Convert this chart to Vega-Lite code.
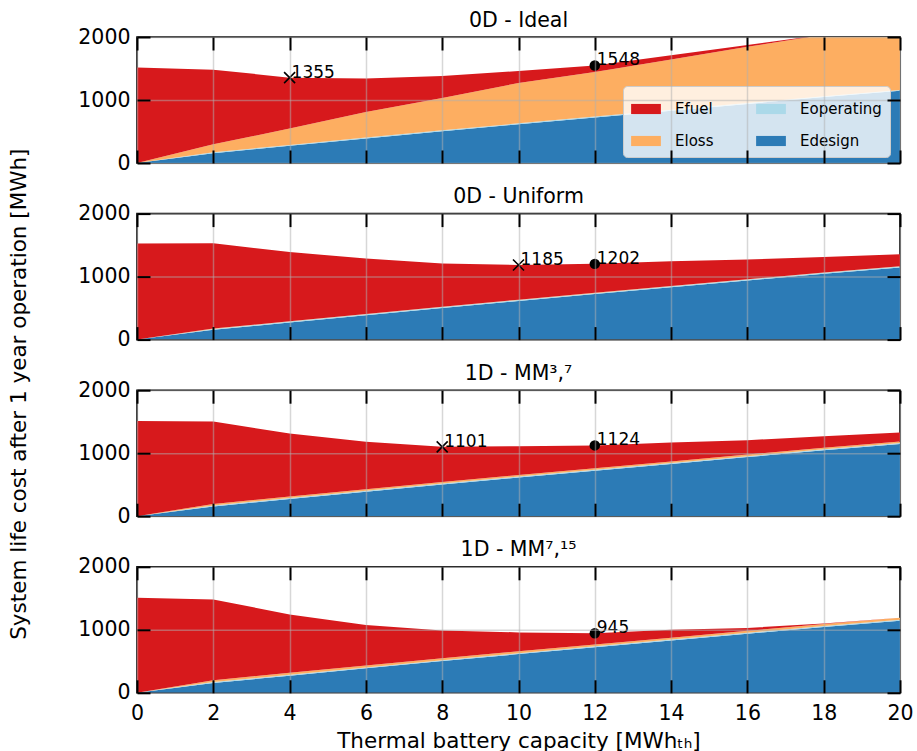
{
  "$schema": "https://vega.github.io/schema/vega-lite/v6.json",
  "padding": {"left": 8, "top": 9, "right": 0, "bottom": 3},
  "background": "white",
  "title": {"text": "System life cost after 1 year operation [MWh]", "orient": "left", "anchor": "middle", "frame": "bounds", "offset": 30, "dx": -13, "fontSize": 21.5, "baseline": "alphabetic", "fontWeight": "normal", "color": "black"},
  "datasets": {
    "areas": [
      {"p": "A", "x": 0, "design": 0, "operating": 0, "loss": 0, "fuel": 1514},
      {"p": "A", "x": 2, "design": 155, "operating": 15, "loss": 127, "fuel": 1185},
      {"p": "A", "x": 4, "design": 272, "operating": 15, "loss": 259, "fuel": 809},
      {"p": "A", "x": 6, "design": 388, "operating": 15, "loss": 407, "fuel": 530},
      {"p": "A", "x": 8, "design": 503, "operating": 15, "loss": 514, "fuel": 349},
      {"p": "A", "x": 10, "design": 614, "operating": 15, "loss": 641, "fuel": 190},
      {"p": "A", "x": 12, "design": 722, "operating": 15, "loss": 707, "fuel": 104},
      {"p": "A", "x": 14, "design": 830, "operating": 15, "loss": 799, "fuel": 65},
      {"p": "A", "x": 16, "design": 938, "operating": 15, "loss": 891, "fuel": 30},
      {"p": "A", "x": 18, "design": 1046, "operating": 15, "loss": 976, "fuel": 0},
      {"p": "A", "x": 20, "design": 1145, "operating": 15, "loss": 1040, "fuel": 0},
      {"p": "B", "x": 0, "design": 0, "operating": 0, "loss": 0, "fuel": 1524},
      {"p": "B", "x": 2, "design": 155, "operating": 15, "loss": 5, "fuel": 1355},
      {"p": "B", "x": 4, "design": 272, "operating": 15, "loss": 5, "fuel": 1098},
      {"p": "B", "x": 6, "design": 388, "operating": 15, "loss": 5, "fuel": 878},
      {"p": "B", "x": 8, "design": 503, "operating": 15, "loss": 5, "fuel": 683},
      {"p": "B", "x": 10, "design": 614, "operating": 15, "loss": 5, "fuel": 551},
      {"p": "B", "x": 12, "design": 722, "operating": 15, "loss": 5, "fuel": 460},
      {"p": "B", "x": 14, "design": 830, "operating": 15, "loss": 5, "fuel": 393},
      {"p": "B", "x": 16, "design": 938, "operating": 15, "loss": 5, "fuel": 312},
      {"p": "B", "x": 18, "design": 1046, "operating": 15, "loss": 5, "fuel": 245},
      {"p": "B", "x": 20, "design": 1145, "operating": 15, "loss": 5, "fuel": 189},
      {"p": "C", "x": 0, "design": 0, "operating": 0, "loss": 0, "fuel": 1513},
      {"p": "C", "x": 2, "design": 155, "operating": 15, "loss": 25, "fuel": 1308},
      {"p": "C", "x": 4, "design": 272, "operating": 15, "loss": 25, "fuel": 1001},
      {"p": "C", "x": 6, "design": 388, "operating": 15, "loss": 25, "fuel": 752},
      {"p": "C", "x": 8, "design": 503, "operating": 15, "loss": 25, "fuel": 558},
      {"p": "C", "x": 10, "design": 614, "operating": 15, "loss": 25, "fuel": 457},
      {"p": "C", "x": 12, "design": 722, "operating": 15, "loss": 25, "fuel": 362},
      {"p": "C", "x": 14, "design": 830, "operating": 15, "loss": 25, "fuel": 300},
      {"p": "C", "x": 16, "design": 938, "operating": 15, "loss": 25, "fuel": 228},
      {"p": "C", "x": 18, "design": 1046, "operating": 15, "loss": 25, "fuel": 184},
      {"p": "C", "x": 20, "design": 1145, "operating": 15, "loss": 25, "fuel": 143},
      {"p": "D", "x": 0, "design": 0, "operating": 0, "loss": 0, "fuel": 1508},
      {"p": "D", "x": 2, "design": 155, "operating": 15, "loss": 30, "fuel": 1282},
      {"p": "D", "x": 4, "design": 272, "operating": 15, "loss": 30, "fuel": 927},
      {"p": "D", "x": 6, "design": 388, "operating": 15, "loss": 30, "fuel": 642},
      {"p": "D", "x": 8, "design": 503, "operating": 15, "loss": 30, "fuel": 442},
      {"p": "D", "x": 10, "design": 614, "operating": 15, "loss": 30, "fuel": 300},
      {"p": "D", "x": 12, "design": 722, "operating": 15, "loss": 30, "fuel": 178},
      {"p": "D", "x": 14, "design": 830, "operating": 15, "loss": 30, "fuel": 125},
      {"p": "D", "x": 16, "design": 938, "operating": 15, "loss": 30, "fuel": 47},
      {"p": "D", "x": 18, "design": 1046, "operating": 15, "loss": 30, "fuel": 9},
      {"p": "D", "x": 20, "design": 1145, "operating": 15, "loss": 30, "fuel": 0}
    ],
    "pts": [
      {"p": "A", "x": 4, "y": 1355, "kind": "min", "label": "1355"},
      {"p": "A", "x": 12, "y": 1548, "kind": "sel", "label": "1548"},
      {"p": "B", "x": 10, "y": 1185, "kind": "min", "label": "1185"},
      {"p": "B", "x": 12, "y": 1202, "kind": "sel", "label": "1202"},
      {"p": "C", "x": 8, "y": 1101, "kind": "min", "label": "1101"},
      {"p": "C", "x": 12, "y": 1124, "kind": "sel", "label": "1124"},
      {"p": "D", "x": 12, "y": 945, "kind": "sel", "label": "945"}
    ],
    "ord": [
      {"comp": "design", "ord": 1},
      {"comp": "operating", "ord": 2},
      {"comp": "loss", "ord": 3},
      {"comp": "fuel", "ord": 4}
    ]
  },
  "bounds": "flush",
  "spacing": 50.6,
  "resolve": {"legend": {"color": "independent"}},
  "vconcat": [
    {
      "width": 763, "height": 126,
      "title": {"text": "0D - Ideal"},
      "layer": [
        {
          "data": {"name": "areas"},
          "transform": [
            {"filter": "datum.p === 'A'"},
            {"fold": ["design", "operating", "loss", "fuel"], "as": ["comp", "v"]},
            {"lookup": "comp", "from": {"data": {"name": "ord"}, "key": "comp", "fields": ["ord"]}}
          ],
          "mark": {"type": "area", "clip": true},
          "encoding": {
            "x": {"field": "x", "type": "quantitative", "scale": {"domain": [0, 20], "nice": false},
                  "axis": {"orient": "bottom", "values": [0,2,4,6,8,10,12,14,16,18,20], "grid": true, "labels": false, "title": null, "zindex": 1}},
            "y": {"field": "v", "type": "quantitative", "stack": "zero", "scale": {"domain": [0, 2000], "nice": false},
                  "axis": {"orient": "left", "values": [0, 1000, 2000], "format": "d", "grid": true, "labelPadding": 20, "title": null, "zindex": 1}},
            "color": {"field": "comp", "type": "nominal",
                      "scale": {"domain": ["fuel", "loss", "operating", "design"], "range": ["#d7191c", "#fdae61", "#abd9e9", "#2c7bb6"]},
                      "legend": {"orient": "none", "legendX": 486, "legendY": 49, "columns": 2, "direction": "vertical", "title": null,
                                 "symbolType": "M-1,-0.34H1V0.34H-1Z", "symbolSize": 886, "symbolStrokeWidth": 0, "symbolOpacity": 1,
                                 "labelFontSize": 15, "labelFont": "DejaVu Sans", "labelColor": "black", "labelOffset": 14,
                                 "columnPadding": 42, "rowPadding": 9, "padding": 8,
                                 "fillColor": "rgba(255,255,255,0.8)", "strokeColor": "#cccccc", "cornerRadius": 4,
                                 "labelExpr": "{'fuel':'Efuel','loss':'Eloss','operating':'Eoperating','design':'Edesign'}[datum.label]"}},
            "order": {"field": "ord", "type": "quantitative"}
          }
        },
        {
          "data": {"name": "pts"},
          "transform": [{"filter": "datum.p === 'A' && datum.kind === 'sel'"}],
          "mark": {"type": "point", "shape": "circle", "filled": true, "color": "black", "size": 110, "opacity": 1},
          "encoding": {
            "x": {"field": "x", "type": "quantitative", "axis": {"orient": "top", "values": [0,2,4,6,8,10,12,14,16,18,20], "grid": false, "labels": false, "title": null, "zindex": 1}},
            "y": {"field": "y", "type": "quantitative", "axis": {"orient": "right", "values": [0, 1000, 2000], "grid": false, "labels": false, "title": null, "zindex": 1}}
          }
        },
        {
          "data": {"name": "pts"},
          "transform": [{"filter": "datum.p === 'A' && datum.kind === 'min'"}],
          "mark": {"type": "point", "shape": "M-1,-1L1,1M-1,1L1,-1", "filled": false, "stroke": "black", "strokeWidth": 1.6, "size": 121, "opacity": 1},
          "encoding": {
            "x": {"field": "x", "type": "quantitative", "axis": null},
            "y": {"field": "y", "type": "quantitative", "axis": null}
          }
        },
        {
          "data": {"name": "pts"},
          "transform": [{"filter": "datum.p === 'A'"}],
          "mark": {"type": "text", "align": "left", "baseline": "alphabetic", "dx": 2, "fontSize": 17, "font": "DejaVu Sans", "color": "black"},
          "encoding": {
            "x": {"field": "x", "type": "quantitative", "axis": null},
            "y": {"field": "y", "type": "quantitative", "axis": null},
            "text": {"field": "label"}
          }
        }
      ],
      "resolve": {"axis": {"x": "independent", "y": "independent"}}
    },
    {
      "width": 763, "height": 126,
      "title": {"text": "0D - Uniform"},
      "layer": [
        {
          "data": {"name": "areas"},
          "transform": [
            {"filter": "datum.p === 'B'"},
            {"fold": ["design", "operating", "loss", "fuel"], "as": ["comp", "v"]},
            {"lookup": "comp", "from": {"data": {"name": "ord"}, "key": "comp", "fields": ["ord"]}}
          ],
          "mark": {"type": "area", "clip": true},
          "encoding": {
            "x": {"field": "x", "type": "quantitative", "scale": {"domain": [0, 20], "nice": false},
                  "axis": {"orient": "bottom", "values": [0,2,4,6,8,10,12,14,16,18,20], "grid": true, "labels": false, "title": null, "zindex": 1}},
            "y": {"field": "v", "type": "quantitative", "stack": "zero", "scale": {"domain": [0, 2000], "nice": false},
                  "axis": {"orient": "left", "values": [0, 1000, 2000], "format": "d", "grid": true, "labelPadding": 20, "title": null, "zindex": 1}},
            "color": {"field": "comp", "type": "nominal",
                      "scale": {"domain": ["fuel", "loss", "operating", "design"], "range": ["#d7191c", "#fdae61", "#abd9e9", "#2c7bb6"]},
                      "legend": null},
            "order": {"field": "ord", "type": "quantitative"}
          }
        },
        {
          "data": {"name": "pts"},
          "transform": [{"filter": "datum.p === 'B' && datum.kind === 'sel'"}],
          "mark": {"type": "point", "shape": "circle", "filled": true, "color": "black", "size": 110, "opacity": 1},
          "encoding": {
            "x": {"field": "x", "type": "quantitative", "axis": {"orient": "top", "values": [0,2,4,6,8,10,12,14,16,18,20], "grid": false, "labels": false, "title": null, "zindex": 1}},
            "y": {"field": "y", "type": "quantitative", "axis": {"orient": "right", "values": [0, 1000, 2000], "grid": false, "labels": false, "title": null, "zindex": 1}}
          }
        },
        {
          "data": {"name": "pts"},
          "transform": [{"filter": "datum.p === 'B' && datum.kind === 'min'"}],
          "mark": {"type": "point", "shape": "M-1,-1L1,1M-1,1L1,-1", "filled": false, "stroke": "black", "strokeWidth": 1.6, "size": 121, "opacity": 1},
          "encoding": {
            "x": {"field": "x", "type": "quantitative", "axis": null},
            "y": {"field": "y", "type": "quantitative", "axis": null}
          }
        },
        {
          "data": {"name": "pts"},
          "transform": [{"filter": "datum.p === 'B'"}],
          "mark": {"type": "text", "align": "left", "baseline": "alphabetic", "dx": 2, "fontSize": 17, "font": "DejaVu Sans", "color": "black"},
          "encoding": {
            "x": {"field": "x", "type": "quantitative", "axis": null},
            "y": {"field": "y", "type": "quantitative", "axis": null},
            "text": {"field": "label"}
          }
        }
      ],
      "resolve": {"axis": {"x": "independent", "y": "independent"}}
    },
    {
      "width": 763, "height": 126,
      "title": {"text": "1D - MM³,⁷"},
      "layer": [
        {
          "data": {"name": "areas"},
          "transform": [
            {"filter": "datum.p === 'C'"},
            {"fold": ["design", "operating", "loss", "fuel"], "as": ["comp", "v"]},
            {"lookup": "comp", "from": {"data": {"name": "ord"}, "key": "comp", "fields": ["ord"]}}
          ],
          "mark": {"type": "area", "clip": true},
          "encoding": {
            "x": {"field": "x", "type": "quantitative", "scale": {"domain": [0, 20], "nice": false},
                  "axis": {"orient": "bottom", "values": [0,2,4,6,8,10,12,14,16,18,20], "grid": true, "labels": false, "title": null, "zindex": 1}},
            "y": {"field": "v", "type": "quantitative", "stack": "zero", "scale": {"domain": [0, 2000], "nice": false},
                  "axis": {"orient": "left", "values": [0, 1000, 2000], "format": "d", "grid": true, "labelPadding": 20, "title": null, "zindex": 1}},
            "color": {"field": "comp", "type": "nominal",
                      "scale": {"domain": ["fuel", "loss", "operating", "design"], "range": ["#d7191c", "#fdae61", "#abd9e9", "#2c7bb6"]},
                      "legend": null},
            "order": {"field": "ord", "type": "quantitative"}
          }
        },
        {
          "data": {"name": "pts"},
          "transform": [{"filter": "datum.p === 'C' && datum.kind === 'sel'"}],
          "mark": {"type": "point", "shape": "circle", "filled": true, "color": "black", "size": 110, "opacity": 1},
          "encoding": {
            "x": {"field": "x", "type": "quantitative", "axis": {"orient": "top", "values": [0,2,4,6,8,10,12,14,16,18,20], "grid": false, "labels": false, "title": null, "zindex": 1}},
            "y": {"field": "y", "type": "quantitative", "axis": {"orient": "right", "values": [0, 1000, 2000], "grid": false, "labels": false, "title": null, "zindex": 1}}
          }
        },
        {
          "data": {"name": "pts"},
          "transform": [{"filter": "datum.p === 'C' && datum.kind === 'min'"}],
          "mark": {"type": "point", "shape": "M-1,-1L1,1M-1,1L1,-1", "filled": false, "stroke": "black", "strokeWidth": 1.6, "size": 121, "opacity": 1},
          "encoding": {
            "x": {"field": "x", "type": "quantitative", "axis": null},
            "y": {"field": "y", "type": "quantitative", "axis": null}
          }
        },
        {
          "data": {"name": "pts"},
          "transform": [{"filter": "datum.p === 'C'"}],
          "mark": {"type": "text", "align": "left", "baseline": "alphabetic", "dx": 2, "fontSize": 17, "font": "DejaVu Sans", "color": "black"},
          "encoding": {
            "x": {"field": "x", "type": "quantitative", "axis": null},
            "y": {"field": "y", "type": "quantitative", "axis": null},
            "text": {"field": "label"}
          }
        }
      ],
      "resolve": {"axis": {"x": "independent", "y": "independent"}}
    },
    {
      "width": 763, "height": 126,
      "title": {"text": "1D - MM⁷,¹⁵"},
      "layer": [
        {
          "data": {"name": "areas"},
          "transform": [
            {"filter": "datum.p === 'D'"},
            {"fold": ["design", "operating", "loss", "fuel"], "as": ["comp", "v"]},
            {"lookup": "comp", "from": {"data": {"name": "ord"}, "key": "comp", "fields": ["ord"]}}
          ],
          "mark": {"type": "area", "clip": true},
          "encoding": {
            "x": {"field": "x", "type": "quantitative", "scale": {"domain": [0, 20], "nice": false},
                  "axis": {"orient": "bottom", "values": [0,2,4,6,8,10,12,14,16,18,20], "grid": true, "labels": true, "labelPadding": 24, "zindex": 1,
                           "title": "Thermal battery capacity [MWhₜₕ]", "titlePadding": 6, "titleFontSize": 21.5}},
            "y": {"field": "v", "type": "quantitative", "stack": "zero", "scale": {"domain": [0, 2000], "nice": false},
                  "axis": {"orient": "left", "values": [0, 1000, 2000], "format": "d", "grid": true, "labelPadding": 20, "title": null, "zindex": 1}},
            "color": {"field": "comp", "type": "nominal",
                      "scale": {"domain": ["fuel", "loss", "operating", "design"], "range": ["#d7191c", "#fdae61", "#abd9e9", "#2c7bb6"]},
                      "legend": null},
            "order": {"field": "ord", "type": "quantitative"}
          }
        },
        {
          "data": {"name": "pts"},
          "transform": [{"filter": "datum.p === 'D' && datum.kind === 'sel'"}],
          "mark": {"type": "point", "shape": "circle", "filled": true, "color": "black", "size": 110, "opacity": 1},
          "encoding": {
            "x": {"field": "x", "type": "quantitative", "axis": {"orient": "top", "values": [0,2,4,6,8,10,12,14,16,18,20], "grid": false, "labels": false, "title": null, "zindex": 1}},
            "y": {"field": "y", "type": "quantitative", "axis": {"orient": "right", "values": [0, 1000, 2000], "grid": false, "labels": false, "title": null, "zindex": 1}}
          }
        },
        {
          "data": {"name": "pts"},
          "transform": [{"filter": "datum.p === 'D'"}],
          "mark": {"type": "text", "align": "left", "baseline": "alphabetic", "dx": 2, "fontSize": 17, "font": "DejaVu Sans", "color": "black"},
          "encoding": {
            "x": {"field": "x", "type": "quantitative", "axis": null},
            "y": {"field": "y", "type": "quantitative", "axis": null},
            "text": {"field": "label"}
          }
        }
      ],
      "resolve": {"axis": {"x": "independent", "y": "independent"}}
    }
  ],
  "config": {
    "font": "DejaVu Sans",
    "view": {"stroke": "black", "strokeWidth": 1.6},
    "title": {"fontSize": 20.5, "fontWeight": "normal", "font": "DejaVu Sans", "color": "black", "baseline": "alphabetic", "offset": -4, "anchor": "middle"},
    "axis": {
      "domain": false,
      "ticks": true,
      "tickColor": "black",
      "tickWidth": 2,
      "tickSize": -13,
      "gridColor": "#b0b0b0",
      "gridOpacity": 0.5,
      "gridWidth": 1.5,
      "labelFont": "DejaVu Sans",
      "labelFontSize": 20.5,
      "labelColor": "black",
      "labelFlush": false,
      "labelOverlap": false,
      "titleFont": "DejaVu Sans",
      "titleFontSize": 20.5,
      "titleFontWeight": "normal",
      "titleColor": "black"
    }
  }
}
